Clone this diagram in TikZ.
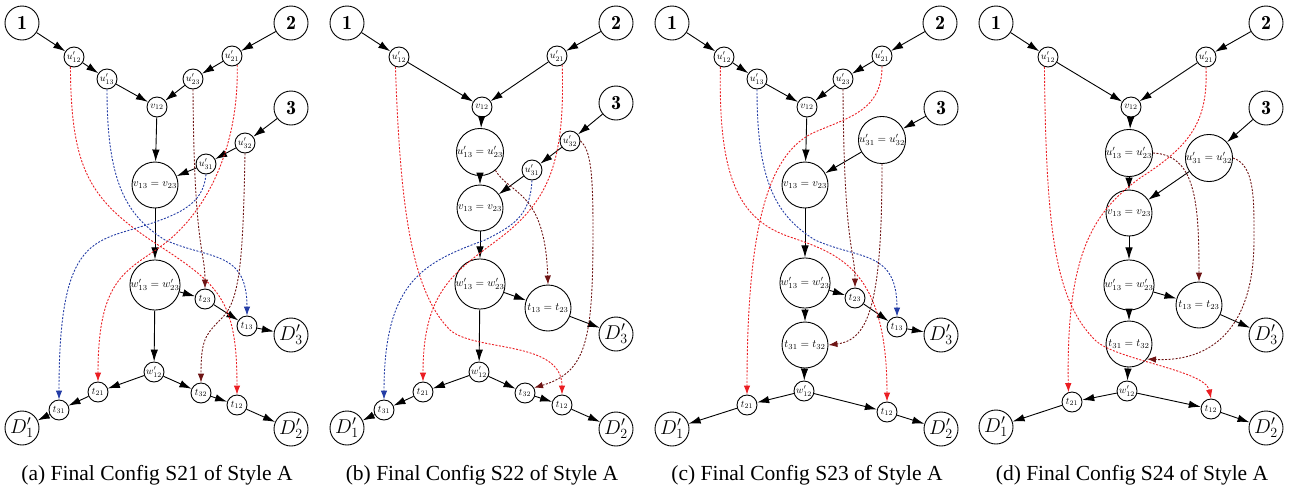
\RequirePackage{fix-cm}
\documentclass[tikz,border=0pt]{standalone}
\usepackage{fontspec}
\usetikzlibrary{arrows.meta}
\newfontfamily\capfont{Liberation Serif}
\definecolor{myred}{RGB}{235,30,35}
\definecolor{myblue}{RGB}{35,60,165}
\definecolor{mybrown}{RGB}{110,20,20}
\tikzset{
 bigc/.style={circle,draw,line width=0.9pt,minimum size=34pt,inner sep=0pt,font=\fontsize{20}{20}\selectfont},
 medc/.style={circle,draw,line width=0.9pt,minimum size=46pt,inner sep=0pt,font=\fontsize{11}{11}\selectfont},
 smlc/.style={circle,draw,line width=0.9pt,minimum size=20pt,inner sep=0pt,font=\fontsize{10}{10}\selectfont},
 arr/.style={-{Latex[length=12pt,width=7.5pt]},line width=0.9pt},
 dsh/.style={-{Latex[length=9pt,width=6.5pt]},line width=0.9pt,dash pattern=on 2pt off 1.5pt},
 captxt/.style={font=\capfont\fontsize{21.5}{24}\selectfont}
}
\begin{document}
\begin{tikzpicture}[x=1pt,y=-1pt]
\useasboundingbox (0,0) rectangle (1299,491);
% ---------------- panel (a)
\begin{scope}
\node[bigc] (a1) at (22,23) {$\mathbf{1}$};
\node[bigc] (a2) at (291,23) {$\mathbf{2}$};
\node[bigc] (a3) at (291,108) {$\mathbf{3}$};
\node[smlc] (au12) at (74,57) {$u'_{12}$};
\node[smlc] (au13) at (107,79) {$u'_{13}$};
\node[smlc] (av12) at (157,107) {$v_{12}$};
\node[smlc] (au23) at (193,79) {$u'_{23}$};
\node[smlc] (au21) at (232,56) {$u'_{21}$};
\node[smlc] (au32) at (245,143) {$u'_{32}$};
\node[smlc] (au31) at (206,164) {$u'_{31}$};
\node[medc] (av) at (155,185) {$v_{13}=v_{23}$};
\node[medc] (aw) at (155,285) {$w'_{13}=w'_{23}$};
\node[smlc] (at23) at (205,299) {$t_{23}$};
\node[smlc] (at13) at (247,326) {$t_{13}$};
\node[bigc] (aD3) at (291,335) {$D'_3$};
\node[smlc] (aw12) at (154,372) {$w'_{12}$};
\node[smlc] (at21) at (98,392) {$t_{21}$};
\node[smlc] (at31) at (59,410) {$t_{31}$};
\node[bigc] (aD1) at (22,428) {$D'_1$};
\node[smlc] (at32) at (201,393) {$t_{32}$};
\node[smlc] (at12) at (237,405) {$t_{12}$};
\node[bigc] (aD2) at (291,429) {$D'_2$};
\draw[arr] (a1) -- (au12);
\draw[arr] (au12) -- (au13);
\draw[arr] (au13) -- (av12);
\draw[arr] (a2) -- (au21);
\draw[arr] (au21) -- (au23);
\draw[arr] (au23) -- (av12);
\draw[arr] (av12) -- (av);
\draw[arr] (a3) -- (au32);
\draw[arr] (au32) -- (au31);
\draw[arr] (au31) -- (av);
\draw[arr] (av) -- (aw);
\draw[arr] (aw) -- (at23);
\draw[arr] (at23) -- (at13);
\draw[arr] (at13) -- (aD3);
\draw[arr] (aw) -- (aw12);
\draw[arr] (aw12) -- (at21);
\draw[arr] (at21) -- (at31);
\draw[arr] (at31) -- (aD1);
\draw[arr] (aw12) -- (at32);
\draw[arr] (at32) -- (at12);
\draw[arr] (at12) -- (aD2);
\draw[dsh,myred] (au12.250) .. controls (71,170) and (90,200) .. (155,243) .. controls (220,285) and (237,300) .. (at12.north);
\draw[dsh,myblue] (au13.south) .. controls (107,180) and (125,215) .. (165,240) .. controls (210,260) and (247,250) .. (at13.north);
\draw[dsh,mybrown] (au23.south) .. controls (194,250) and (205,250) .. (at23.north);
\draw[dsh,myred] (au21.300) .. controls (239,150) and (205,215) .. (160,247) .. controls (125,272) and (98,280) .. (at21.north);
\draw[dsh,mybrown] (au32.south) .. controls (243,260) and (240,300) .. (222,318) .. controls (205,335) and (201,340) .. (at32.north);
\draw[dsh,myblue] (au31.south) .. controls (203,205) and (180,215) .. (130,230) .. controls (85,243) and (59,255) .. (at31.north);
\node[captxt] (capa) at (157,475) {(a) Final Config S21 of Style A};
\end{scope}
% ---------------- panel (b)
\begin{scope}[xshift=325pt]
\node[bigc] (b1) at (22,23) {$\mathbf{1}$};
\node[bigc] (b2) at (291,23) {$\mathbf{2}$};
\node[bigc] (b3) at (291,103) {$\mathbf{3}$};
\node[smlc] (bu12) at (74,57) {$u'_{12}$};
\node[smlc] (bu21) at (232,56) {$u'_{21}$};
\node[smlc] (bv12) at (157,107) {$v_{12}$};
\node[medc] (bu) at (155,152) {$u'_{13}=u'_{23}$};
\node[medc] (bv) at (155,208) {$v_{13}=v_{23}$};
\node[smlc] (bu32) at (245,141) {$u'_{32}$};
\node[smlc] (bu31) at (207,170) {$u'_{31}$};
\node[medc] (bw) at (155,284) {$w'_{13}=w'_{23}$};
\node[medc] (bt) at (223,308) {$t_{13}=t_{23}$};
\node[bigc] (bD3) at (291,334) {$D'_3$};
\node[smlc] (bw12) at (154,372) {$w'_{12}$};
\node[smlc] (bt21) at (98,392) {$t_{21}$};
\node[smlc] (bt31) at (59,410) {$t_{31}$};
\node[bigc] (bD1) at (22,428) {$D'_1$};
\node[smlc] (bt32) at (200,393) {$t_{32}$};
\node[smlc] (bt12) at (237,405) {$t_{12}$};
\node[bigc] (bD2) at (291,429) {$D'_2$};
\draw[arr] (b1) -- (bu12);
\draw[arr] (bu12) -- (bv12);
\draw[arr] (b2) -- (bu21);
\draw[arr] (bu21) -- (bv12);
\draw[arr] (bv12) -- (bu);
\draw[arr] (bu) -- (bv);
\draw[arr] (b3) -- (bu32);
\draw[arr] (bu32) -- (bu31);
\draw[arr] (bu31) -- (bv);
\draw[arr] (bv) -- (bw);
\draw[arr] (bw) -- (bt);
\draw[arr] (bt) -- (bD3);
\draw[arr] (bw) -- (bw12);
\draw[arr] (bw12) -- (bt21);
\draw[arr] (bt21) -- (bt31);
\draw[arr] (bt31) -- (bD1);
\draw[arr] (bw12) -- (bt32);
\draw[arr] (bt32) -- (bt12);
\draw[arr] (bt12) -- (bD2);
\draw[dsh,myred] (bu12.250) .. controls (75,200) and (85,290) .. (125,330) .. controls (150,352) and (237,340) .. (bt12.north);
\draw[dsh,myred] (bu21.300) .. controls (240,160) and (225,200) .. (175,238) .. controls (130,272) and (98,290) .. (bt21.north);
\draw[dsh,myblue] (bu31.south) .. controls (205,215) and (190,225) .. (160,240) .. controls (100,262) and (59,280) .. (bt31.north);
\draw[dsh,mybrown] (bu.-50) .. controls (185,195) and (220,190) .. (bt.north);
\draw[dsh,mybrown] (bu32.east) .. controls (266,150) and (268,175) .. (268,230) .. controls (268,340) and (262,372) .. (bt32.30);
\node[captxt] (capb) at (157,475) {(b) Final Config S22 of Style A};
\end{scope}
% ---------------- panel (c)
\begin{scope}[xshift=650pt]
\node[bigc] (c1) at (22,23) {$\mathbf{1}$};
\node[bigc] (c2) at (290,23) {$\mathbf{2}$};
\node[bigc] (c3) at (291,108) {$\mathbf{3}$};
\node[smlc] (cu12) at (74,57) {$u'_{12}$};
\node[smlc] (cu13) at (107,79) {$u'_{13}$};
\node[smlc] (cv12) at (157,107) {$v_{12}$};
\node[smlc] (cu23) at (193,79) {$u'_{23}$};
\node[smlc] (cu21) at (232,56) {$u'_{21}$};
\node[medc] (cu) at (232,140) {$u'_{31}=u'_{32}$};
\node[medc] (cv) at (155,185) {$v_{13}=v_{23}$};
\node[medc] (cw) at (155,283) {$w'_{13}=w'_{23}$};
\node[smlc] (ct23) at (205,298) {$t_{23}$};
\node[smlc] (ct13) at (247,327) {$t_{13}$};
\node[bigc] (cD3) at (291,335) {$D'_3$};
\node[medc] (ct) at (155,345) {$t_{31}=t_{32}$};
\node[smlc] (cw12) at (154,391) {$w'_{12}$};
\node[smlc] (ct21) at (97,405) {$t_{21}$};
\node[bigc] (cD1) at (22,429) {$D'_1$};
\node[smlc] (ct12) at (237,412) {$t_{12}$};
\node[bigc] (cD2) at (291,429) {$D'_2$};
\draw[arr] (c1) -- (cu12);
\draw[arr] (cu12) -- (cu13);
\draw[arr] (cu13) -- (cv12);
\draw[arr] (c2) -- (cu21);
\draw[arr] (cu21) -- (cu23);
\draw[arr] (cu23) -- (cv12);
\draw[arr] (cv12) -- (cv);
\draw[arr] (c3) -- (cu);
\draw[arr] (cu) -- (cv);
\draw[arr] (cv) -- (cw);
\draw[arr] (cw) -- (ct23);
\draw[arr] (ct23) -- (ct13);
\draw[arr] (ct13) -- (cD3);
\draw[arr] (cw) -- (ct);
\draw[arr] (ct) -- (cw12);
\draw[arr] (cw12) -- (ct21);
\draw[arr] (ct21) -- (cD1);
\draw[arr] (cw12) -- (ct12);
\draw[arr] (ct12) -- (cD2);
\draw[dsh,myred] (cu12.250) .. controls (68,180) and (90,220) .. (140,237) .. controls (190,254) and (237,270) .. (ct12.north);
\draw[dsh,myblue] (cu13.south) .. controls (107,180) and (125,215) .. (165,240) .. controls (210,260) and (247,250) .. (ct13.north);
\draw[dsh,mybrown] (cu23.south) .. controls (194,250) and (205,250) .. (ct23.north);
\draw[dsh,myred] (cu21.south) .. controls (232,110) and (200,117) .. (165,132) .. controls (120,152) and (97,220) .. (ct21.north);
\draw[dsh,mybrown] (cu.south) .. controls (232,300) and (220,340) .. (ct.east);
\node[captxt] (capc) at (157,475) {(c) Final Config S23 of Style A};
\end{scope}
% ---------------- panel (d)
\begin{scope}[xshift=970pt]
\node[bigc] (d1) at (26,23) {$\mathbf{1}$};
\node[bigc] (d2) at (296,23) {$\mathbf{2}$};
\node[bigc] (d3) at (296,108) {$\mathbf{3}$};
\node[smlc] (du12) at (78,57) {$u'_{12}$};
\node[smlc] (du21) at (236,57) {$u'_{21}$};
\node[smlc] (dv12) at (161,107) {$v_{12}$};
\node[medc] (du) at (159,153) {$u'_{13}=u'_{23}$};
\node[medc] (dx) at (239,158) {$u'_{31}=u'_{32}$};
\node[medc] (dv) at (159,213) {$v_{13}=v_{23}$};
\node[medc] (dw) at (159,285) {$w'_{13}=w'_{23}$};
\node[medc] (dt) at (229,305) {$t_{13}=t_{23}$};
\node[bigc] (dD3) at (296,335) {$D'_3$};
\node[medc] (dtt) at (159,344) {$t_{31}=t_{32}$};
\node[smlc] (dw12) at (157,391) {$w'_{12}$};
\node[smlc] (dt21) at (102,402) {$t_{21}$};
\node[bigc] (dD1) at (26,427) {$D'_1$};
\node[smlc] (dt12) at (241,409) {$t_{12}$};
\node[bigc] (dD2) at (296,428) {$D'_2$};
\draw[arr] (d1) -- (du12);
\draw[arr] (du12) -- (dv12);
\draw[arr] (d2) -- (du21);
\draw[arr] (du21) -- (dv12);
\draw[arr] (dv12) -- (du);
\draw[arr] (du) -- (dv);
\draw[arr] (d3) -- (dx);
\draw[arr] (dx) -- (dv);
\draw[arr] (dv) -- (dw);
\draw[arr] (dw) -- (dt);
\draw[arr] (dt) -- (dD3);
\draw[arr] (dw) -- (dtt);
\draw[arr] (dtt) -- (dw12);
\draw[arr] (dw12) -- (dt21);
\draw[arr] (dt21) -- (dD1);
\draw[arr] (dw12) -- (dt12);
\draw[arr] (dt12) -- (dD2);
\draw[dsh,myred] (du12.250) .. controls (76,230) and (85,300) .. (125,340) .. controls (145,360) and (235,370) .. (dt12.north);
\draw[dsh,myred] (du21.south) .. controls (238,120) and (222,145) .. (170,178) .. controls (125,211) and (96,250) .. (dt21.110);
\draw[dsh,mybrown] (du.east) .. controls (225,155) and (229,200) .. (dt.north);
\draw[dsh,mybrown] (dx.east) .. controls (285,165) and (284,200) .. (284,240) .. controls (284,330) and (240,362) .. (dtt.-40);
\node[captxt] (capd) at (162,475) {(d) Final Config S24 of Style A};
\end{scope}
\end{tikzpicture}
\end{document}
